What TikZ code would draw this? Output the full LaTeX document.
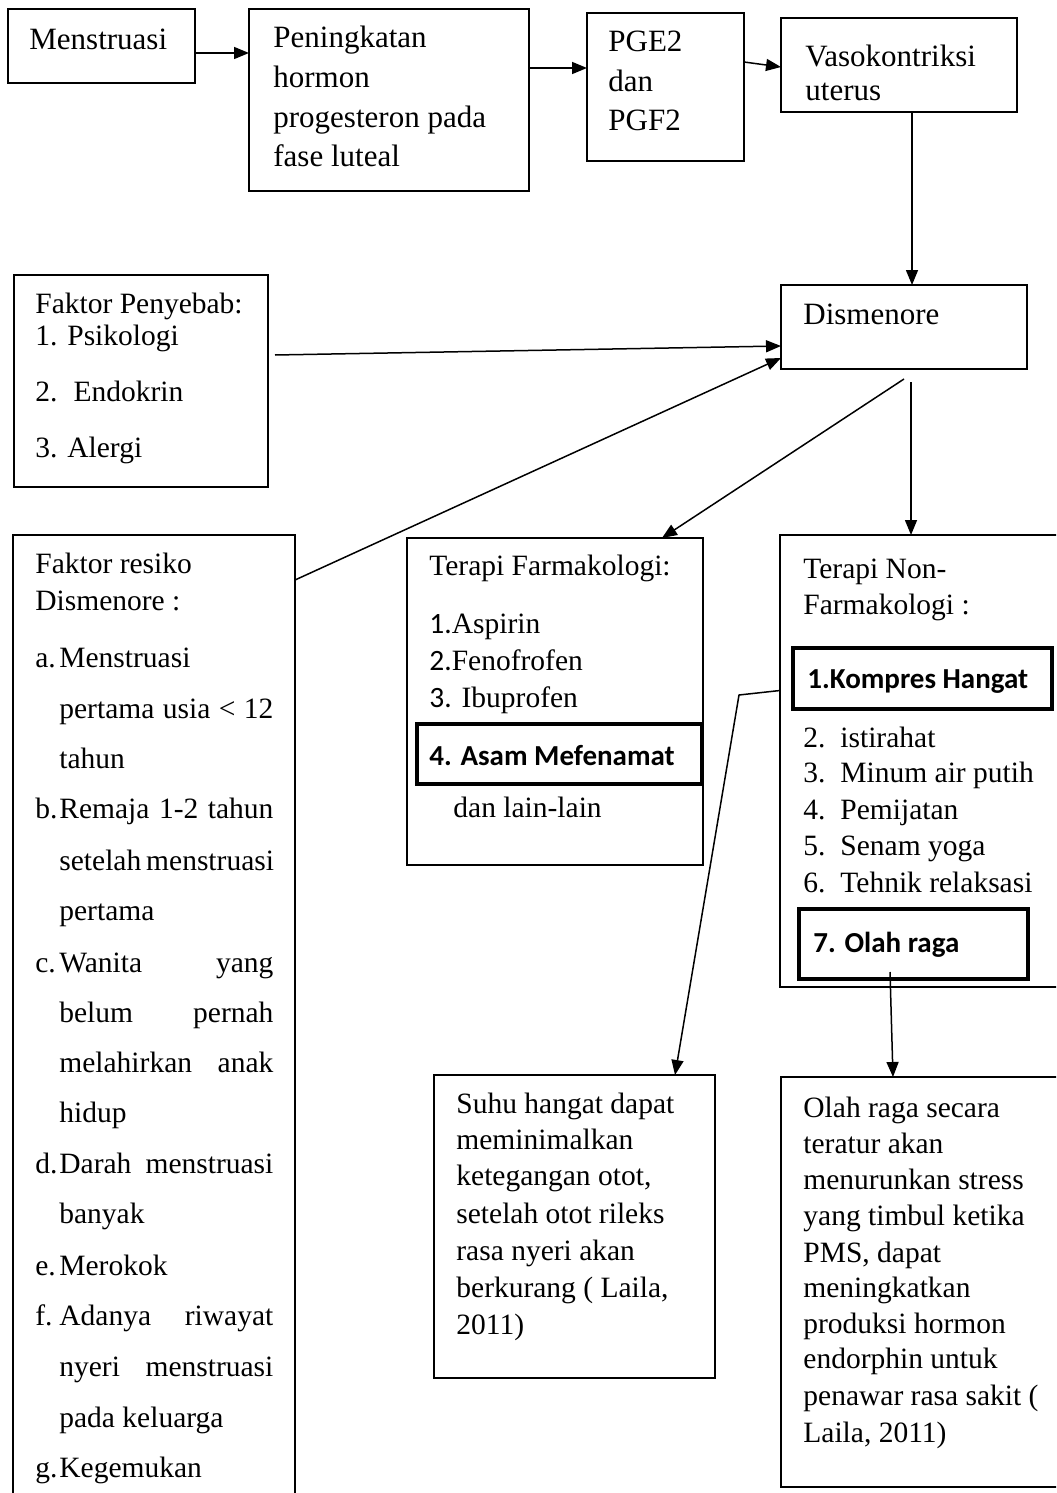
\documentclass[tikz,border=0pt]{standalone}
\usepackage{fontspec}
\setmainfont{Liberation Serif}
\newfontfamily\calb{Carlito}
\usetikzlibrary{arrows.meta,calc}
\tikzset{
 box/.style={draw, line width=0.75pt, inner sep=0pt, outer sep=0pt},
 bbox/.style={box, line width=2pt},
 tx/.style={anchor=base west, inner sep=0pt, font=\fontsize{14.75}{17}\selectfont},
 tl/.style={tx, font=\fontsize{15.5}{18}\selectfont},
 bt/.style={anchor=base west, inner sep=0pt, font=\calb\bfseries\fontsize{14.5}{17}\selectfont},
 arr/.style={line width=0.75pt, -{Triangle[length=7.5pt,width=6pt]}},
 ln/.style={line width=0.75pt}
}
\newcommand\bx[6][]{\node[box,#1,minimum width={(#5-#3)*0.5pt},minimum height={(#6-#4)*0.5pt}] (#2) at ({(#3+#5)/2},{(#4+#6)/2}) {};}
\newcommand\T[4][tx]{\node[#1] (#2) at (#3) {#4};}
\newcommand\J[1]{\makebox[107pt][s]{#1}}
\begin{document}
\begin{tikzpicture}[x=0.5pt,y=-0.5pt]
\useasboundingbox (0,0) rectangle (1056,1493);
\clip (0,0) rectangle (1056,1493);
% boxes
\bx{menst}{8}{9}{195}{83}
\bx{peni}{249}{9}{529}{191}
\bx{pge}{587}{13}{744}{161}
\bx[line width=1.3pt]{vaso}{781}{18}{1017}{112}
\bx{dism}{781}{285}{1027}{369}
\bx{fp}{14}{275}{268}{487}
\bx{fr}{13}{535}{295}{1510}
\bx{farm}{407}{538}{703}{865}
\bx{non}{780}{535}{1070}{987}
\bx[bbox]{komp}{793}{648}{1052}{709}
\bx[bbox]{asam}{417}{724}{702}{784}
\bx[bbox]{olah}{799}{909}{1028}{979}
\bx{suhu}{434}{1075}{715}{1378}
\bx{olahb}{781}{1077}{1070}{1487}
% top row texts
\T[tl]{m1}{29,50}{Menstruasi}
\T[tl]{p1}{273,48}{Peningkatan}
\T[tl]{p2}{273,88}{hormon}
\T[tl]{p3}{273,127}{progesteron pada}
\T[tl]{p4}{273,166}{fase luteal}
\T[tl]{g1}{608,52}{PGE2}
\T[tl]{g2}{608,92}{dan}
\T[tl]{g3}{608,131}{PGF2}
\T[tl]{v1}{805,67}{Vasokontriksi}
\T[tl]{v2}{805,101}{uterus}
\T[tl]{d1}{803,324}{Dismenore}
% faktor penyebab
\T{f1}{35,313}{Faktor Penyebab:}
\T{f2}{35,345}{1. Psikologi}
\T{f3}{35,401}{2.\hspace{8pt}Endokrin}
\T{f4}{35,457}{3. Alergi}
% faktor resiko
\T{r1}{35,573}{Faktor resiko}
\T{r2}{35,610}{Dismenore :}
\T{la}{35,667}{a.}\T{ra1}{59,667}{Menstruasi}
\T{ra2}{59,718}{\J{pertama usia < 12}}
\T{ra3}{59,768}{tahun}
\T{lb}{35,818}{b.}\T{rb1}{59,818}{\J{Remaja 1-2 tahun}}
\T{rb2}{59,870}{\J{setelah menstruasi}}
\T{rb3}{59,920}{pertama}
\T{lc}{35,972}{c.}\T{rc1}{59,972}{\J{Wanita yang}}
\T{rc2}{59,1022}{\J{belum pernah}}
\T{rc3}{59,1072}{\J{melahirkan anak}}
\T{rc4}{59,1122}{hidup}
\T{ld}{35,1173}{d.}\T{rd1}{59,1173}{\J{Darah menstruasi}}
\T{rd2}{59,1223}{banyak}
\T{le}{35,1275}{e.}\T{re1}{59,1275}{Merokok}
\T{lf}{35,1325}{f.}\T{rf1}{59,1325}{\J{Adanya riwayat}}
\T{rf2}{59,1376}{\J{nyeri menstruasi}}
\T{rf3}{59,1427}{pada keluarga}
\T{lg}{35,1477}{g.}\T{rg1}{59,1477}{Kegemukan}
% farmakologi
\T{a1}{429,575}{Terapi Farmakologi:}
\T{a2}{429,633}{{\calb 1.}Aspirin}
\T{a3}{429,670}{{\calb 2.}Fenofrofen}
\T{a4}{429,707}{{\calb 3.} Ibuprofen}
\T[bt]{a5}{429,765}{4. Asam Mefenamat}
\T{a6}{453,817}{dan lain-lain}
% non farmakologi
\T{n1}{803,578}{Terapi Non-}
\T{n2}{803,614}{Farmakologi :}
\T[bt]{n3}{807,688}{1.Kompres Hangat}
\T{n4a}{803,747}{2.}\T{n4}{840,747}{istirahat}
\T{n5a}{803,782}{3.}\T{n5}{840,782}{Minum air putih}
\T{n6a}{803,819}{4.}\T{n6}{840,819}{Pemijatan}
\T{n7a}{803,855}{5.}\T{n7}{840,855}{Senam yoga}
\T{n8a}{803,892}{6.}\T{n8}{840,892}{Tehnik relaksasi}
\T[bt]{n9}{813,952}{7. Olah raga}
% suhu
\T{s1}{456,1113}{Suhu hangat dapat}
\T{s2}{456,1149}{meminimalkan}
\T{s3}{456,1185}{ketegangan otot,}
\T{s4}{456,1223}{setelah otot rileks}
\T{s5}{456,1260}{rasa nyeri akan}
\T{s6}{456,1297}{berkurang ( Laila,}
\T{s7}{456,1334}{2011)}
% olah raga
\T{o1}{803,1117}{Olah raga secara}
\T{o2}{803,1153}{teratur akan}
\T{o3}{803,1189}{menurunkan stress}
\T{o4}{803,1225}{yang timbul ketika}
\T{o5}{803,1262}{PMS, dapat}
\T{o6}{803,1297}{meningkatkan}
\T{o7}{803,1333}{produksi hormon}
\T{o8}{803,1368}{endorphin untuk}
\T{o9}{803,1405}{penawar rasa sakit (}
\T{o10}{803,1442}{Laila, 2011)}
% connectors
\draw[arr] ($(menst.east)+(0,7)$) coordinate (c1) -- (c1 -| peni.west);
\draw[arr] ($(peni.east)+(0,-32)$) coordinate (c2) -- (c2 -| pge.west);
\draw[arr] ($(pge.east)+(0,-25)$) -- ($(vaso.west)+(0,2)$);
\draw[arr] ($(vaso.south west)+(131,0)$) -- ($(dism.north west)+(131,0)$);
\draw[arr] ($(fp.east)+(7,-26)$) -- ($(dism.west)+(0,19)$);
\draw[arr] ($(fr.north east)+(0,45)$) -- ($(dism.south west)+(0,-11)$);
\draw[arr] ($(dism.south west)+(123,10)$) -- ($(farm.north west)+(255,0)$);
\draw[arr] ($(dism.south west)+(130,13)$) -- ($(non.north west)+(131,0)$);
\coordinate (kb) at (739,695);
\draw[arr] ($(komp.west)+(-13,12)$) -- (kb) -- ($(suhu.north west)+(241,0)$);
\draw[arr] ($(olah.south west)+(91,-7)$) -- ($(olahb.north west)+(112,0)$);
\end{tikzpicture}
\end{document}
